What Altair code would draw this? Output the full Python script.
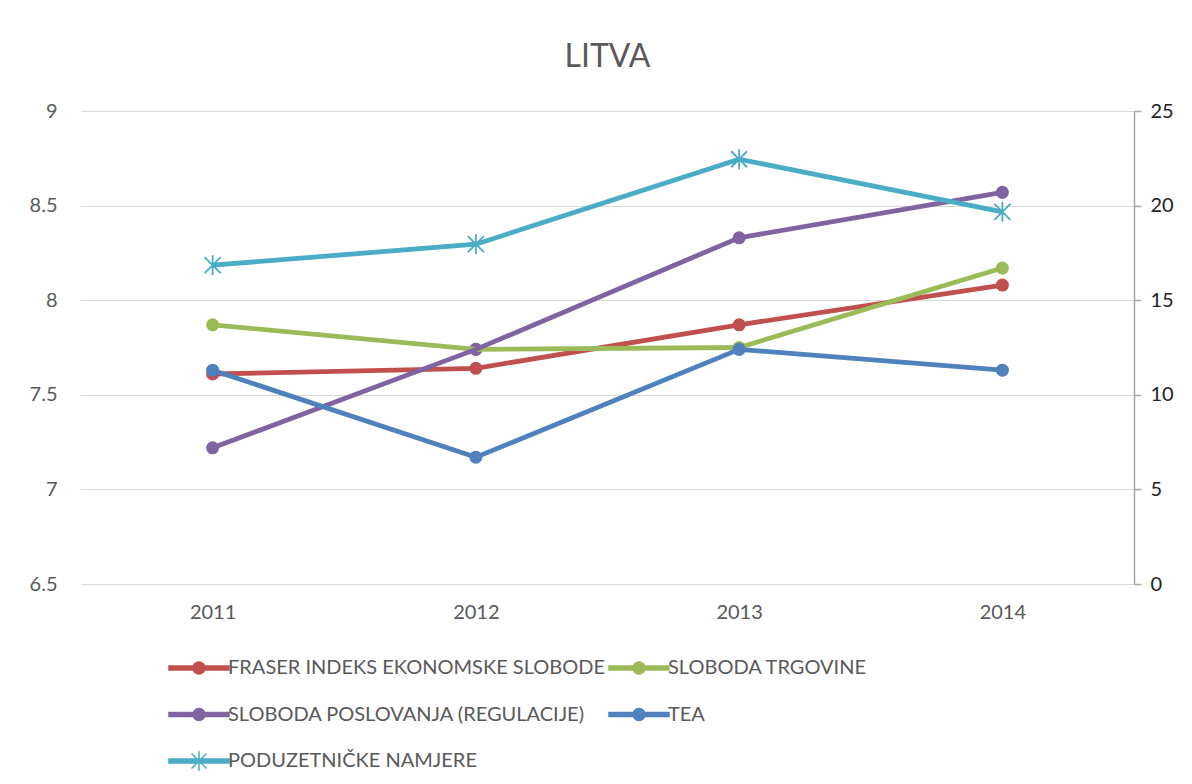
import altair as alt
import pandas as pd

years = ["2011", "2012", "2013", "2014"]

series_names = [
    "FRASER INDEKS EKONOMSKE SLOBODE",
    "SLOBODA TRGOVINE",
    "SLOBODA POSLOVANJA (REGULACIJE)",
    "TEA",
    "PODUZETNIČKE NAMJERE",
]
series_colors = ["#C0504D", "#9BBB59", "#8064A2", "#4F81BD", "#4BACC6"]

# left axis series
fraser = [7.61, 7.64, 7.87, 8.08]
trgovina = [7.87, 7.74, 7.75, 8.17]
poslovanje = [7.22, 7.74, 8.33, 8.57]
# right axis series
tea = [11.3, 6.7, 12.4, 11.3]
namjere = [16.85, 17.96, 22.45, 19.67]

left_rows = []
for name, vals in zip(series_names[:3], [fraser, trgovina, poslovanje]):
    for y, v in zip(years, vals):
        left_rows.append({"year": y, "series": name, "value": v})
right_rows = []
for name, vals in zip(series_names[3:], [tea, namjere]):
    for y, v in zip(years, vals):
        right_rows.append({"year": y, "series": name, "value": v})
left_df = pd.DataFrame(left_rows)
right_df = pd.DataFrame(right_rows)

FONT = "Lato"
GREY = "#595959"

circle_sym = ("M-2,-0.13L2,-0.13L2,0.13L-2,0.13Z "
              "M-0.4,0A0.4,0.4,0,1,1,0.4,0A0.4,0.4,0,1,1,-0.4,0Z")
star_sym = ("M-2,-0.13L2,-0.13L2,0.13L-2,0.13Z "
            "M0,-0.65L0,0.65M-0.5,-0.5L0.5,0.5M-0.5,0.5L0.5,-0.5")
star_mark = "M0,-1L0,1M-0.8,-0.8L0.8,0.8M-0.8,0.8L0.8,-0.8"

x_enc = alt.X(
    "year:O",
    scale=alt.Scale(type="point", padding=0.5),
    axis=alt.Axis(title=None, labelAngle=0, ticks=False, domain=False,
                  grid=False, labelFontSize=20,
                  labelColor=GREY, labelPadding=18, labelFont=FONT),
)

color_enc = alt.Color(
    "series:N",
    scale=alt.Scale(domain=series_names, range=series_colors),
    legend=alt.Legend(
        title=None, orient="none", legendX=102, legendY=541, columns=2,
        direction="horizontal",
        columnPadding=0, rowPadding=20.5, labelFontSize=20, labelColor=GREY,
        labelFont=FONT, labelOffset=13, symbolSize=900, labelLimit=600,
        padding=0, symbolStrokeWidth=1.5, symbolOpacity=1,
        symbolType=alt.ExprRef(
            "datum.value === 'PODUZETNIČKE NAMJERE' ? '" + star_sym + "' : '" + circle_sym + "'"
        ),
    ),
)

y_left = alt.Y(
    "value:Q",
    scale=alt.Scale(domain=[6.5, 9], nice=False, zero=False),
    axis=alt.Axis(title=None, values=[6.5, 7, 7.5, 8, 8.5, 9], format=".1~f",
                  ticks=False, domain=False, grid=True,
                  gridColor="#D9D9D9", gridWidth=1.2, labelFontSize=20,
                  labelColor=GREY, labelPadding=24, labelFont=FONT),
)
y_right = alt.Y(
    "value:Q",
    scale=alt.Scale(domain=[0, 25], nice=False),
    axis=alt.Axis(title=None, orient="right", values=[0, 5, 10, 15, 20, 25],
                  format="d", grid=False, domain=True, domainColor="#A6A6A6",
                  domainWidth=1.5, ticks=True, tickColor="#A6A6A6", tickSize=7,
                  tickWidth=1.5, labelFontSize=20, labelColor="#222222",
                  labelPadding=9, labelFont=FONT),
)

no_view = alt.ViewBackground(stroke="transparent", strokeWidth=0)

left_base = alt.Chart(left_df).encode(x=x_enc, y=y_left, color=color_enc)
left = alt.layer(
    left_base.mark_point(filled=True, shape="circle", size=170, opacity=1),
    left_base.mark_line(strokeWidth=4.8),
)

right_base = alt.Chart(right_df).encode(x=x_enc, y=y_right, color=color_enc)
right = alt.layer(
    right_base.transform_filter(alt.datum.series == "TEA").mark_point(
        filled=True, shape="circle", size=170, opacity=1),
    right_base.mark_line(strokeWidth=4.8),
    right_base.transform_filter(alt.datum.series == "PODUZETNIČKE NAMJERE").mark_point(
        filled=False, shape=star_mark, size=400, strokeWidth=1.8, opacity=1),
)

chart = (
    alt.layer(left, right)
    .resolve_scale(y="independent")
    .properties(
        width=1053, height=473,
        view=no_view,
        title=alt.TitleParams("LITVA", fontSize=32, font=FONT, fontWeight="normal",
                              color=GREY, anchor="middle", offset=27),
        autosize=alt.AutoSizeParams(type="none"),
        padding={"left": 73, "top": 103, "right": 48, "bottom": 188},
    )
    .configure_view(stroke="transparent", strokeWidth=0)
    .configure_axisX(grid=False, domain=False)
    .configure(font=FONT, style={"cell": {"stroke": "transparent", "strokeWidth": 0}})
)

chart.save("out.html", embed_options={"renderer": "svg", "actions": False})
